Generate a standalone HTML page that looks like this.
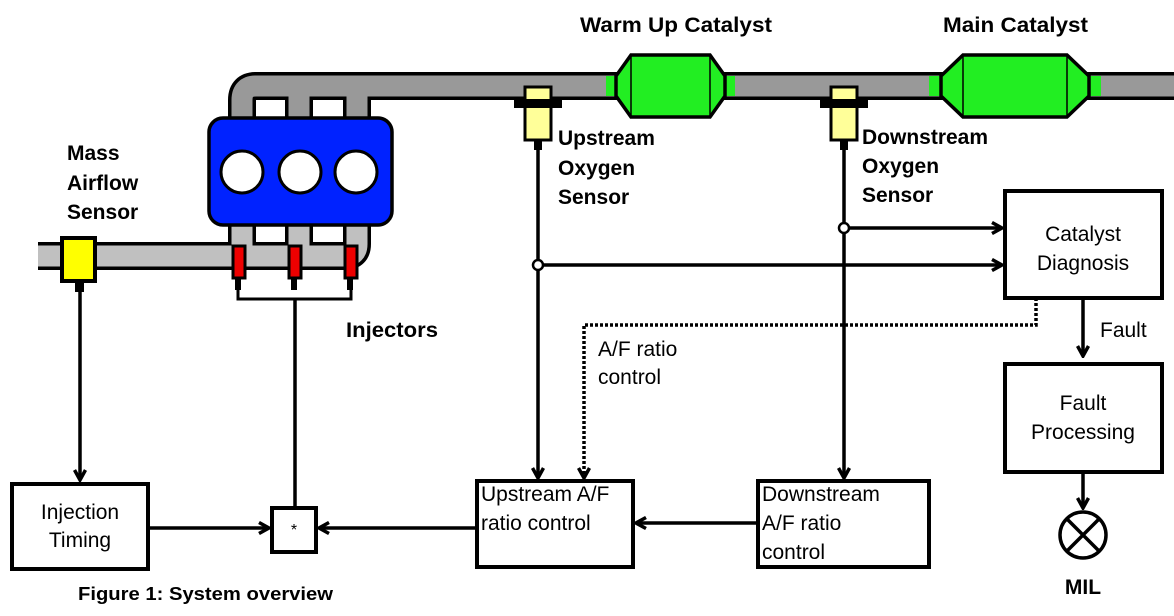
<!DOCTYPE html>
<html><head><meta charset="utf-8"><style>
html,body{margin:0;padding:0;background:#fff;}
svg{display:block;}
text{font-family:"Liberation Sans",sans-serif;fill:#000;}
.b{font-weight:bold;font-size:21px;}
.r{font-size:21px;}
</style></head><body>
<svg width="1174" height="616" viewBox="0 0 1174 616" xmlns="http://www.w3.org/2000/svg">
<defs>
<marker id="ah" markerWidth="14" markerHeight="14" refX="12" refY="7" orient="auto" markerUnits="userSpaceOnUse">
<path d="M2,1.5 L12,7 L2,12.5" fill="none" stroke="#000" stroke-width="3.5"/>
</marker>
</defs>
<g fill="none" stroke-linejoin="round">
<path d="M242,125 V100 Q242,86 256,86 H1180 M299,125 V86 M357,125 V86" stroke="#000" stroke-width="28"/>
<path d="M242,125 V100 Q242,86 256,86 H1180 M299,125 V86 M357,125 V86" stroke="#999" stroke-width="21"/>
<path d="M38,256 H345 Q357,256 357,244 V220 M242,220 V256 M299,220 V256" stroke="#000" stroke-width="28"/>
<path d="M38,256 H345 Q357,256 357,244 V220 M242,220 V256 M299,220 V256" stroke="#c0c0c0" stroke-width="21"/>
</g>
<rect x="30" y="240" width="8" height="32" fill="#fff"/>
<rect x="209" y="118" width="183" height="107" rx="14" fill="#0022ff" stroke="#000" stroke-width="3.5"/>
<circle cx="242" cy="172" r="21" fill="#fff" stroke="#000" stroke-width="3"/>
<circle cx="300" cy="172" r="21" fill="#fff" stroke="#000" stroke-width="3"/>
<circle cx="356" cy="172" r="21" fill="#fff" stroke="#000" stroke-width="3"/>
<g stroke="#000" stroke-width="3.5" fill="#22ee22">
<rect x="606" y="76" width="10" height="20" stroke="none"/>
<rect x="725" y="76" width="10" height="20" stroke="none"/>
<path d="M616,76 L631,55 H710 L725,76 V96 L710,117 H631 L616,96 Z"/>
<path d="M631,55 V117 M710,55 V117" stroke-width="1.5"/>
<rect x="929" y="76" width="12" height="20" stroke="none"/>
<rect x="1089" y="76" width="12" height="20" stroke="none"/>
<path d="M941,76 L963,55 H1067 L1089,76 V96 L1067,117 H963 L941,96 Z"/>
<path d="M963,55 V117 M1067,55 V117" stroke-width="1.5"/>
</g>
<rect x="525" y="87" width="26" height="53" fill="#ffff99" stroke="#000" stroke-width="3"/>
<rect x="514" y="99" width="48" height="9" fill="#000"/>
<rect x="534" y="140" width="8" height="10" fill="#000"/>
<rect x="831" y="87" width="26" height="53" fill="#ffff99" stroke="#000" stroke-width="3"/>
<rect x="820" y="99" width="48" height="9" fill="#000"/>
<rect x="840" y="140" width="8" height="10" fill="#000"/>
<rect x="62" y="238" width="33" height="43" fill="#ffff00" stroke="#000" stroke-width="4"/>
<rect x="75" y="281" width="9" height="11" fill="#000"/>
<g fill="#ee0000" stroke="#000" stroke-width="3">
<rect x="233" y="246" width="12" height="32"/>
<rect x="289" y="246" width="12" height="32"/>
<rect x="345" y="246" width="12" height="32"/>
</g>
<g fill="#000"><rect x="235" y="278" width="6" height="12"/><rect x="291" y="278" width="6" height="12"/><rect x="347" y="278" width="6" height="12"/></g>
<g fill="none" stroke="#000" stroke-width="3.5">
<path d="M238,288 V299 H351 V288" stroke-width="3"/>
<path d="M295,299 V507"/>
<path d="M80,292 V480" marker-end="url(#ah)"/>
<path d="M538,150 V478" marker-end="url(#ah)"/>
<path d="M543,265 H1002" marker-end="url(#ah)"/>
<path d="M844,150 V478" marker-end="url(#ah)"/>
<path d="M849,228 H1002" marker-end="url(#ah)"/>
<path d="M1036,298 V325 H584 V478" stroke-dasharray="3,2" marker-end="url(#ah)"/>
<path d="M1083,298 V356" marker-end="url(#ah)"/>
<path d="M1083,472 V508" marker-end="url(#ah)"/>
<rect x="12" y="484" width="136" height="85" stroke-width="4"/>
<rect x="272" y="508" width="44" height="44" stroke-width="4"/>
<rect x="477" y="481" width="156" height="86" stroke-width="4"/>
<rect x="758" y="481" width="171" height="86" stroke-width="4"/>
<rect x="1005" y="191" width="157" height="107" stroke-width="4"/>
<rect x="1005" y="364" width="157" height="108" stroke-width="4"/>
<path d="M148,528 H269" marker-end="url(#ah)"/>
<path d="M477,528 H319" marker-end="url(#ah)"/>
<path d="M758,523 H636" marker-end="url(#ah)"/>
<circle cx="1083" cy="535" r="23"/>
<path d="M1067,519 L1099,551 M1099,519 L1067,551"/>
</g>
<circle cx="538" cy="265" r="5" fill="#fff" stroke="#000" stroke-width="2.5"/>
<circle cx="844" cy="228" r="5" fill="#fff" stroke="#000" stroke-width="2.5"/>
<text class="b" x="580" y="32" textLength="192" lengthAdjust="spacingAndGlyphs">Warm Up Catalyst</text>
<text class="b" x="943" y="32" textLength="145" lengthAdjust="spacingAndGlyphs">Main Catalyst</text>
<text class="b" x="67" y="160">Mass</text>
<text class="b" x="67" y="190">Airflow</text>
<text class="b" x="67" y="219">Sensor</text>
<text class="b" x="558" y="145">Upstream</text>
<text class="b" x="558" y="175">Oxygen</text>
<text class="b" x="558" y="204">Sensor</text>
<text class="b" x="862" y="144">Downstream</text>
<text class="b" x="862" y="173">Oxygen</text>
<text class="b" x="862" y="202">Sensor</text>
<text class="b" x="346" y="337" textLength="92" lengthAdjust="spacingAndGlyphs">Injectors</text>
<text class="r" x="598" y="356">A/F ratio</text>
<text class="r" x="598" y="384">control</text>
<text class="r" x="1100" y="337">Fault</text>
<text class="r" x="80" y="519" text-anchor="middle">Injection</text>
<text class="r" x="80" y="547" text-anchor="middle">Timing</text>
<text x="294" y="535" text-anchor="middle" style="font-size:16px">*</text>
<text class="r" x="481" y="501">Upstream A/F</text>
<text class="r" x="481" y="530">ratio control</text>
<text class="r" x="762" y="501">Downstream</text>
<text class="r" x="762" y="530">A/F ratio</text>
<text class="r" x="762" y="559">control</text>
<text class="r" x="1083" y="241" text-anchor="middle">Catalyst</text>
<text class="r" x="1083" y="270" text-anchor="middle">Diagnosis</text>
<text class="r" x="1083" y="410" text-anchor="middle">Fault</text>
<text class="r" x="1083" y="439" text-anchor="middle">Processing</text>
<text class="b" x="1083" y="594" text-anchor="middle">MIL</text>
<text class="b" x="78" y="600" style="font-size:18px" textLength="255" lengthAdjust="spacingAndGlyphs">Figure 1: System overview</text>
</svg>
</body></html>
